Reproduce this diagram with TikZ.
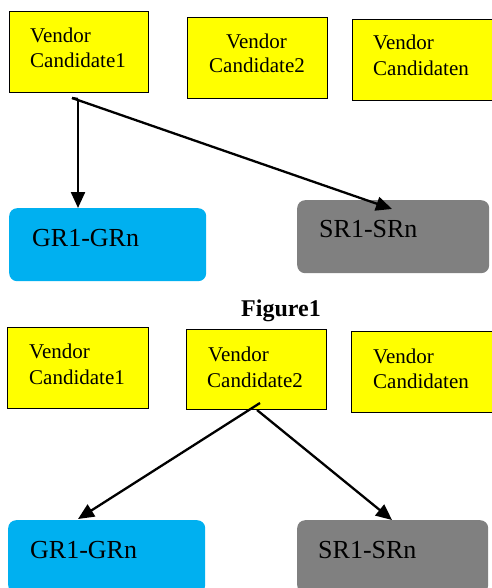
\documentclass[tikz,border=0pt]{standalone}
\usepackage{fontspec}
\setmainfont{Liberation Serif}
\usetikzlibrary{arrows.meta}
\definecolor{vyellow}{RGB}{255,255,0}
\definecolor{grblue}{RGB}{0,176,240}
\definecolor{srgray}{RGB}{128,128,128}
\tikzset{
  vbox/.style={draw=black, line width=1.4pt, fill=vyellow, inner sep=0pt, anchor=north west,
    minimum width=#1},
  vbox/.default=140pt,
  rbox/.style={fill=#1, rounded corners=8pt, inner sep=0pt, anchor=north west,
    minimum height=73pt},
  vtext/.style={anchor=base west, inner sep=0pt, font=\fontsize{21}{25}\selectfont},
  rtext/.style={anchor=base west, inner sep=0pt, font=\fontsize{26}{30}\selectfont},
  link/.style={line width=2.3pt, -{Triangle[length=16pt, width=14pt]}},
}
\begin{document}
\begin{tikzpicture}[x=1pt, y=-1pt]
\useasboundingbox (0,0) rectangle (491,588);

% ---- first diagram ----
\node[vbox=139pt, minimum height=81pt] (a1) at (9,11) {};
\node[vbox=140pt, minimum height=81pt] (a2) at (187,17) {};
\node[vbox=142pt, minimum height=81pt] (a3) at (352,19) {};
\node[vtext] (a1t1) at (30,43) {Vendor};
\node[vtext] (a1t2) at (30,68) {Candidate1};
\node[vtext] (a2t1) at (226,49) {Vendor};
\node[vtext] (a2t2) at (209,73) {Candidate2};
\node[vtext] (a3t1) at (373,50) {Vendor};
\node[vtext] (a3t2) at (373,76) {Candidaten};

\node[rbox=grblue, minimum width=197pt] (g1) at (9,208) {};
\node[rbox=srgray, minimum width=192pt] (s1) at (297,200) {};
\node[rtext] (g1t) at (32,246) {GR1-GRn};
\node[rtext] (s1t) at (319,237) {SR1-SRn};

\coordinate (o1) at (78,99);
\coordinate (o1b) at (72,98);
\coordinate (e1) at (392,209);
\draw[line width=2.3pt] (o1b) -- (o1);
\draw[link] (o1) -- (o1 |- g1.north);
\draw[link] (o1b) -- (e1);

\node[anchor=base west, inner sep=0pt, font=\fontsize{24}{28}\selectfont\bfseries] (cap) at (241,316) {Figure1};

% ---- second diagram ----
\node[vbox=141pt, minimum height=81pt] (b1) at (7,327) {};
\node[vbox=140pt, minimum height=80pt] (b2) at (186,329) {};
\node[vbox=142pt, minimum height=81pt] (b3) at (351,331) {};
\node[vtext] (b1t1) at (29,358) {Vendor};
\node[vtext] (b1t2) at (29,384) {Candidate1};
\node[vtext] (b2t1) at (208,361) {Vendor};
\node[vtext] (b2t2) at (207,387) {Candidate2};
\node[vtext] (b3t1) at (373,363) {Vendor};
\node[vtext] (b3t2) at (373,388) {Candidaten};

\node[rbox=grblue, minimum width=197pt] (g2) at (8,520) {};
\node[rbox=srgray, minimum width=191pt] (s2) at (297,520) {};
\node[rtext] (g2t) at (30,558) {GR1-GRn};
\node[rtext] (s2t) at (318,558) {SR1-SRn};

\coordinate (o2) at (260,403);
\coordinate (o2b) at (257,410);
\coordinate (e2) at (78,519);
\coordinate (f2) at (392,520);
\draw[link] (o2) -- (e2);
\draw[link] (o2b) -- (f2);
\end{tikzpicture}
\end{document}
